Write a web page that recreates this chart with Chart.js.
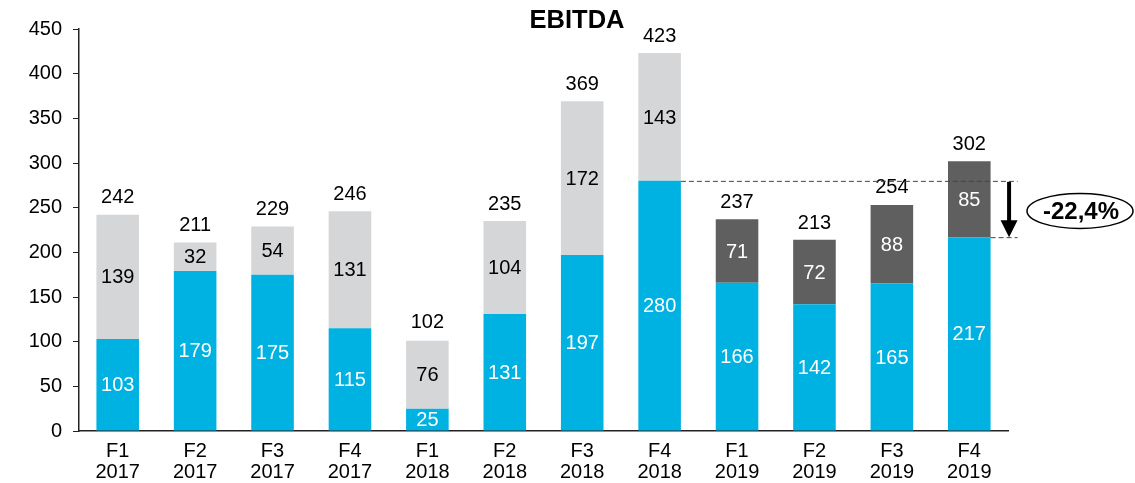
<!DOCTYPE html>
<html>
<head>
<meta charset="utf-8">
<script src="https://cdn.jsdelivr.net/npm/chart.js@4/dist/chart.umd.min.js"></script>
<style>
  html, body { margin: 0; padding: 0; background: #fff; }
  #wrap { width: 1135px; height: 483px; }
</style>
</head>
<body>
<div id="wrap"><canvas id="ebitdaChart"></canvas></div>
<script>
// EBITDA by period (stacked)
const periods = [['F1', '2017'], ['F2', '2017'], ['F3', '2017'], ['F4', '2017'],
                 ['F1', '2018'], ['F2', '2018'], ['F3', '2018'], ['F4', '2018'],
                 ['F1', '2019'], ['F2', '2019'], ['F3', '2019'], ['F4', '2019']];
const baseValues = [103, 179, 175, 115, 25, 131, 197, 280, 166, 142, 165, 217];
const upperOld = [139, 32, 54, 131, 76, 104, 172, 143, null, null, null, null];
const upperNew = [null, null, null, null, null, null, null, null, 71, 72, 88, 85];
const totals = [242, 211, 229, 246, 102, 235, 369, 423, 237, 213, 254, 302];
const yTicks = [0, 50, 100, 150, 200, 250, 300, 350, 400, 450];
const changeLabel = '-22,4%';

const FONT = '"Liberation Sans", Arial, sans-serif';

// labels inside segments + totals + title + comparison marker
const labelPlugin = {
  id: 'labels',
  afterDatasetsDraw(chart) {
    const ctx = chart.ctx;
    const y = chart.scales.y;
    ctx.save();
    ctx.font = '20px ' + FONT;
    ctx.textAlign = 'center';
    ctx.textBaseline = 'middle';
    chart.data.datasets.forEach((ds, di) => {
      const meta = chart.getDatasetMeta(di);
      meta.data.forEach((bar, i) => {
        const v = ds.data[i];
        if (v == null) return;
        ctx.fillStyle = ds.labelColor;
        ctx.fillText(String(v), bar.x, (bar.y + bar.base) / 2 + 1);
      });
    });
    // totals
    const meta0 = chart.getDatasetMeta(0);
    ctx.fillStyle = '#000';
    totals.forEach((t, i) => {
      ctx.fillText(String(t), meta0.data[i].x, y.getPixelForValue(t) - 17);
    });

    // title
    ctx.font = 'bold 25.5px ' + FONT;
    ctx.fillText('EBITDA', 577, 21);

    // comparison: F4 2018 base vs F4 2019 base
    const from = meta0.data[7];
    const to = meta0.data[11];
    const yA = y.getPixelForValue(baseValues[7]);
    const yB = y.getPixelForValue(baseValues[11]);
    const xEnd = to.x + to.width / 2 + 27;
    ctx.strokeStyle = '#444';
    ctx.lineWidth = 1;
    ctx.setLineDash([5, 3]);
    ctx.beginPath();
    ctx.moveTo(from.x + from.width / 2, yA + 0.5);
    ctx.lineTo(xEnd, yA + 0.5);
    ctx.moveTo(to.x + to.width / 2, yB + 0.5);
    ctx.lineTo(xEnd, yB + 0.5);
    ctx.stroke();
    ctx.setLineDash([]);
    // arrow
    const ax = to.x + to.width / 2 + 18.5;
    ctx.strokeStyle = '#000';
    ctx.lineWidth = 4;
    ctx.beginPath();
    ctx.moveTo(ax, yA + 1);
    ctx.lineTo(ax, yB - 15);
    ctx.stroke();
    ctx.fillStyle = '#000';
    ctx.beginPath();
    ctx.moveTo(ax - 8.5, yB - 17);
    ctx.lineTo(ax + 8.5, yB - 17);
    ctx.lineTo(ax, yB);
    ctx.closePath();
    ctx.fill();
    // ellipse
    const ex = 1080, ey = (yA + yB) / 2 + 2;
    ctx.lineWidth = 1.5;
    ctx.beginPath();
    ctx.ellipse(ex, ey, 53, 17.5, 0, 0, Math.PI * 2);
    ctx.fillStyle = '#fff';
    ctx.fill();
    ctx.stroke();
    ctx.fillStyle = '#000';
    ctx.font = 'bold 24px ' + FONT;
    ctx.fillText(changeLabel, ex + 1, ey + 1);
    ctx.restore();
  }
};

new Chart(document.getElementById('ebitdaChart'), {
  type: 'bar',
  data: {
    labels: periods,
    datasets: [
      { data: baseValues, backgroundColor: '#00B2E2', labelColor: '#fff' },
      { data: upperOld, backgroundColor: '#D5D6D8', labelColor: '#000' },
      { data: upperNew, backgroundColor: '#5F5F5F', labelColor: '#fff' }
    ]
  },
  options: {
    responsive: true,
    maintainAspectRatio: false,
    animation: false,
    layout: { padding: { left: 0, right: 127, top: 29, bottom: 0 } },
    datasets: { bar: { barPercentage: 0.55, categoryPercentage: 1, borderWidth: 0 } },
    plugins: { legend: { display: false }, tooltip: { enabled: false } },
    scales: {
      x: {
        stacked: true,
        grid: { display: false },
        border: { color: '#222', width: 1.5 },
        ticks: { color: '#000', font: { family: FONT, size: 20, lineHeight: 1.05 }, padding: 2, maxRotation: 0 },
        afterFit(scale) { scale.height = 52; }
      },
      y: {
        stacked: true,
        min: 0,
        max: 450,
        afterBuildTicks(scale) { scale.ticks = yTicks.map(v => ({ value: v })); },
        grid: { drawOnChartArea: false, tickLength: 6, color: '#222' },
        border: { color: '#222', width: 1.5 },
        ticks: { color: '#000', font: { family: FONT, size: 20 }, padding: 11 },
        afterFit(scale) { scale.width = 79; }
      }
    }
  },
  plugins: [labelPlugin]
});
</script>
</body>
</html>
